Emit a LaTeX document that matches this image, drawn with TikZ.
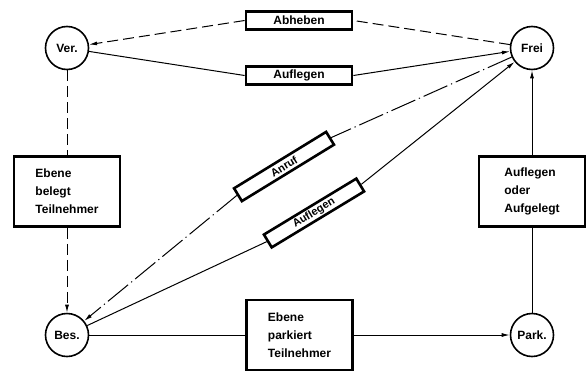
\documentclass[tikz,border=0pt]{standalone}
\usepackage{fontspec}
\setmainfont{Liberation Sans}
\usetikzlibrary{arrows.meta}
\begin{document}
\begin{tikzpicture}[x=1pt,y=-1pt,
  every node/.style={font=\fontsize{12}{18}\selectfont\bfseries},
  state/.style={circle,draw,line width=1.6pt,minimum size=43pt,inner sep=0pt},
  lbox/.style={draw,line width=2.8pt,minimum width=106pt,minimum height=18pt,inner sep=0pt},
  bigbox/.style={draw,line width=2.8pt,minimum width=106pt,minimum height=70pt,inner sep=0pt,align=left},
  dbox/.style={draw,line width=2.6pt,minimum width=108pt,minimum height=15pt,inner sep=0pt,
    font=\fontsize{11}{13}\selectfont\bfseries},
  conn/.style={line width=1pt},
  arr/.style={-{Latex[length=8pt,width=4pt]}},
  dsh/.style={dash pattern=on 11pt off 5pt},
  dshdot/.style={dash pattern=on 26pt off 4pt on 1.2pt off 4pt}
]
\useasboundingbox (0,0) rectangle (588,372);
\node[state] (ver) at (67,48) {Ver.};
\node[state] (frei) at (532,48) {Frei};
\node[state] (bes) at (67,335) {Bes.};
\node[state] (park) at (532,335) {Park.};

\node[lbox] (abh) at (299,20.5) {Abheben};
\node[lbox] (auf1) at (299,75.5) {Auflegen};
\node[bigbox] (ebb) at (67,191.5) {Ebene\\belegt\\Teilnehmer};
\node[bigbox] (aoa) at (532,191.5) {Auflegen\\oder\\Aufgelegt};
\node[bigbox] (ebp) at (299.5,335) {Ebene\\parkiert\\Teilnehmer};
\node[dbox,rotate=31.5] (anr) at (284,166.5) {Anruf};
\node[dbox,rotate=31.2] (auf2) at (314,213) {Auflegen};

\draw[conn,dsh] (frei) -- (abh.east);
\draw[conn,dsh,arr] (abh.west) -- (ver);
\draw[conn] (ver) -- (auf1.west);
\draw[conn,arr] (auf1.east) -- (frei);
\draw[conn,dsh] (ver) -- (ebb.north);
\draw[conn,dsh,arr] (ebb.south) -- (bes);
\draw[conn] (bes) -- (ebp.west);
\draw[conn,arr] (ebp.east) -- (park);
\draw[conn] (park) -- (aoa.south);
\draw[conn,arr] (aoa.north) -- (frei);
\draw[conn,dshdot] (frei) -- (anr.east);
\draw[conn,dshdot,arr] (anr.west) -- (bes);
\draw[conn] (bes) -- (auf2.west);
\draw[conn,arr] (auf2.east) -- (frei);
\end{tikzpicture}
\end{document}
